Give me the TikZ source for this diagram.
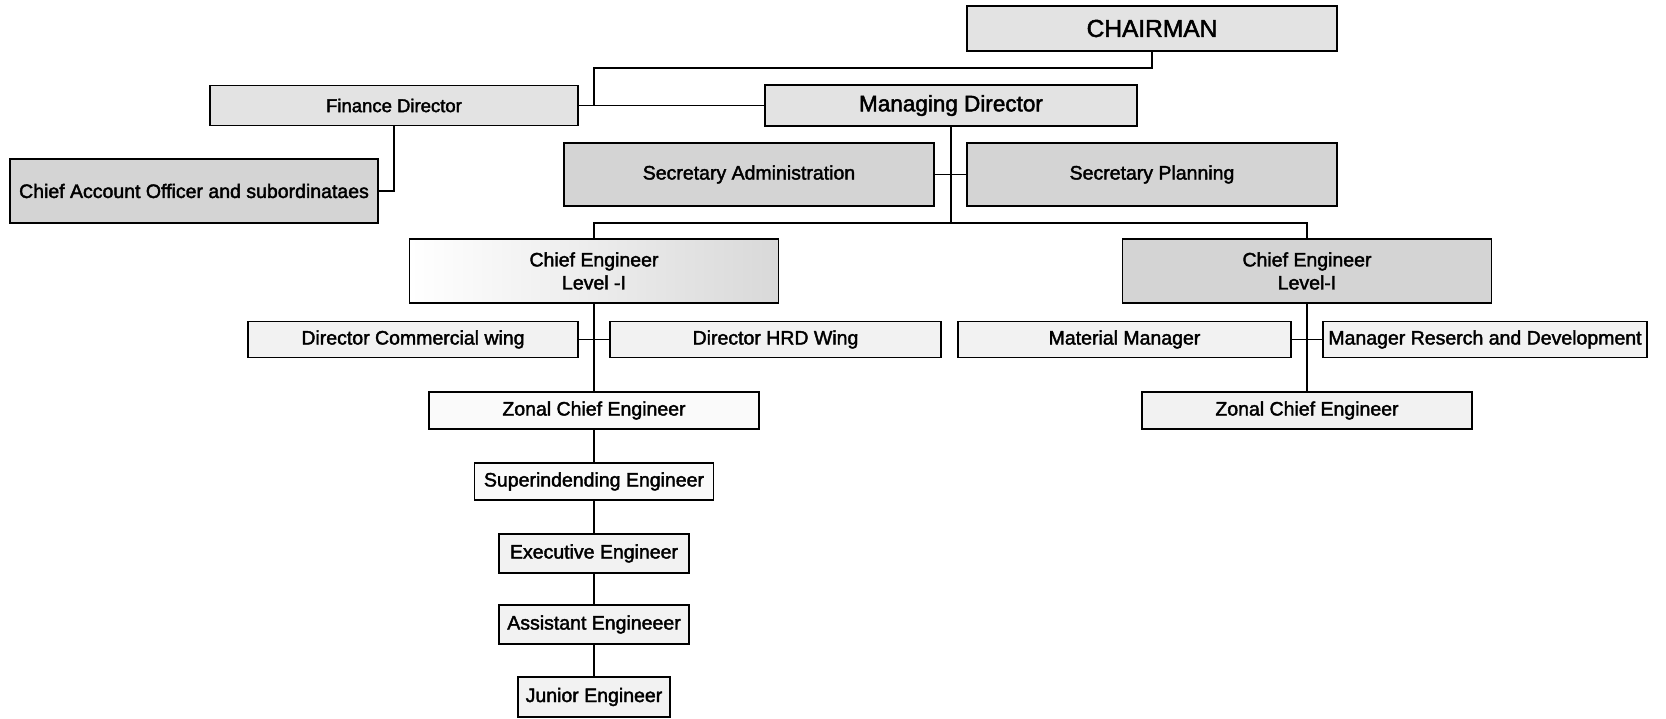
\documentclass[tikz,border=0pt]{standalone}
\usepackage{fontspec}
\setmainfont{Liberation Sans}
% slightly heavier strokes for the box labels
\newfontfamily\labelfont{Liberation Sans}[FakeBold=2]
\newcommand\lbl[1]{\labelfont\fontsize{#1pt}{23pt}\selectfont}
\begin{document}
\begin{tikzpicture}[x=1pt,y=-1pt,
  box/.style={draw=black, line width=1.7pt, inner sep=0pt, align=center,
              font=\lbl{19.5}, text=black},
  heavy/.style={box, fill=black!17},
  medium/.style={box, fill=black!11},
  light/.style={box, fill=black!5},
  faint/.style={box, fill=black!2},
  link/.style={draw=black, line width=1.4pt}]
\useasboundingbox (0,0) rectangle (1666,719);

% top management
\node[medium, minimum width=370pt, minimum height=45pt, font=\lbl{24.5}] (chair) at (1152,28.5) {CHAIRMAN};
\node[medium, minimum width=368pt, minimum height=40pt, font=\lbl{18.5}] (fd) at (394,105.5) {Finance Director};
\node[medium, minimum width=372pt, minimum height=41pt, font=\lbl{22.5}] (md) at (951,105.5) {Managing Director};
\node[heavy, minimum width=368pt, minimum height=64pt] (ca) at (194,191) {Chief Account Officer and subordinataes};
\node[heavy, minimum width=370pt, minimum height=63pt] (sa) at (749,174.5) {Secretary Administration};
\node[heavy, minimum width=370pt, minimum height=63pt] (sp) at (1152,174.5) {Secretary Planning};

% chief engineers
\node[box, minimum width=369pt, minimum height=64pt, left color=white, right color=black!15] (cel) at (594,271) {Chief Engineer\\Level -I};
\node[heavy, minimum width=369pt, minimum height=64pt] (cer) at (1307,271) {Chief Engineer\\Level-I};

% wings
\node[light, minimum width=330pt, minimum height=36pt] (dc) at (413,339.5) {Director Commercial wing};
\node[light, minimum width=331pt, minimum height=36pt] (hrd) at (775.5,339.5) {Director HRD Wing};
\node[light, minimum width=333pt, minimum height=36pt] (mm) at (1124.5,339.5) {Material Manager};
\node[light, minimum width=324pt, minimum height=36pt] (mrd) at (1485,339.5) {Manager Reserch and Development};

% zonal level
\node[faint, minimum width=330pt, minimum height=37pt] (zl) at (594,410.5) {Zonal Chief Engineer};
\node[light, minimum width=330pt, minimum height=37pt] (zr) at (1307,410.5) {Zonal Chief Engineer};

% field engineers
\node[faint, minimum width=239pt, minimum height=37pt] (se) at (594,481.5) {Superindending Engineer};
\node[light, minimum width=190pt, minimum height=39pt] (ee) at (594,553.5) {Executive Engineer};
\node[light, minimum width=190pt, minimum height=39pt] (ae) at (594,624.5) {Assistant Engineeer};
\node[light, minimum width=152pt, minimum height=40pt] (je) at (594,697) {Junior Engineer};

% junction points of the tree
\coordinate (bar1) at (594,68);
\coordinate (bar2) at (951,223);

% connectors
\draw[link] (fd.east) -- (md.west);
\draw[link] (chair.south) |- (bar1) -- (bar1 |- fd.east);
\draw[link] (fd.south) |- (ca.east);
\draw[link] (sa.east) -- (sp.west);
\draw[link] (md.south) -- (bar2);
\draw[link] (cel.north) |- (bar2) -| (cer.north);
\draw[link] (dc.east) -- (hrd.west);
\draw[link] (cel.south) -- (zl.north);
\draw[link] (mm.east) -- (mrd.west);
\draw[link] (cer.south) -- (zr.north);
\draw[link] (zl.south) -- (se.north);
\draw[link] (se.south) -- (ee.north);
\draw[link] (ee.south) -- (ae.north);
\draw[link] (ae.south) -- (je.north);
\end{tikzpicture}
\end{document}
